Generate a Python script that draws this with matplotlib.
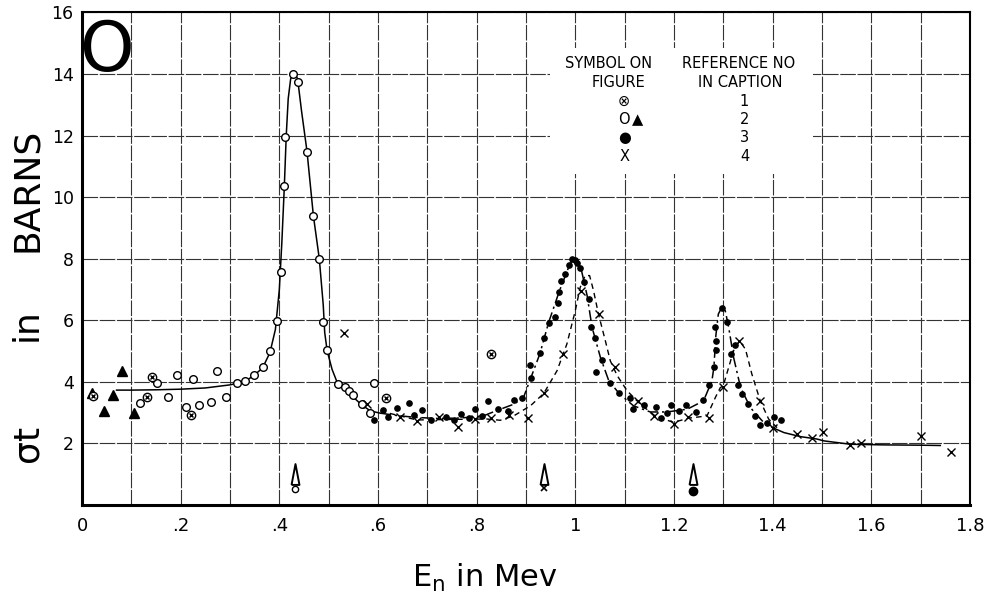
import numpy as np
import matplotlib
matplotlib.use("Agg")
import matplotlib.pyplot as plt
from matplotlib.patches import Rectangle

# ref 1 (circle with cross)
e_ref1 = [0.023, 0.131, 0.141, 0.2205, 0.617, 0.829]
s_ref1 = [3.53, 3.49, 4.14, 2.92, 3.47, 4.90]

# ref 2 open circles
e_ref2 = [0.118, 0.151, 0.174, 0.192, 0.211, 0.2245, 0.237, 0.261, 0.273, 0.292,
          0.314, 0.331, 0.348, 0.366, 0.381, 0.395, 0.403, 0.410, 0.412, 0.428,
          0.4375, 0.456, 0.469, 0.481, 0.489, 0.496, 0.518, 0.533, 0.542, 0.550,
          0.567, 0.584, 0.592]
s_ref2 = [3.30, 3.95, 3.49, 4.22, 3.19, 4.08, 3.23, 3.34, 4.36, 3.51,
          3.95, 4.01, 4.22, 4.47, 4.99, 5.97, 7.58, 10.35, 11.96, 14.0,
          13.75, 11.47, 9.39, 7.99, 5.93, 5.03, 3.93, 3.84, 3.71, 3.57,
          3.27, 3.00, 3.95]

# ref 2 triangles
e_ref2t = [0.0196, 0.044, 0.062, 0.081, 0.105]
s_ref2t = [3.62, 3.06, 3.58, 4.36, 2.99]

# ref 3 filled dots
e_ref3 = [0.591, 0.611, 0.621, 0.638, 0.662, 0.673, 0.690, 0.707, 0.738, 0.755,
          0.768, 0.784, 0.796, 0.811, 0.823, 0.843, 0.863, 0.875, 0.892, 0.909,
          0.910, 0.929, 0.937, 0.946, 0.959, 0.965, 0.968, 0.971, 0.980, 0.988,
          0.994, 0.999, 1.003, 1.009, 1.018, 1.028, 1.032, 1.039, 1.043, 1.055,
          1.071, 1.089, 1.110, 1.118, 1.139, 1.163, 1.173, 1.186, 1.195, 1.210,
          1.225, 1.245, 1.259, 1.271, 1.281, 1.284, 1.285, 1.286, 1.297, 1.308,
          1.316, 1.323, 1.330, 1.338, 1.350, 1.365, 1.374, 1.389, 1.402, 1.418]
s_ref3 = [2.75, 3.09, 2.84, 3.16, 3.32, 2.93, 3.08, 2.77, 2.84, 2.75,
          2.95, 2.82, 3.11, 2.88, 3.37, 3.10, 3.05, 3.41, 3.48, 4.54,
          4.11, 4.92, 5.43, 5.91, 6.11, 6.57, 6.93, 7.26, 7.50, 7.79,
          7.98, 7.96, 7.86, 7.71, 7.25, 6.70, 5.79, 5.43, 4.33, 4.70,
          3.96, 3.62, 3.48, 3.12, 3.24, 3.19, 2.83, 3.00, 3.26, 3.05,
          3.25, 3.01, 3.41, 3.90, 4.47, 5.77, 5.33, 5.03, 6.40, 5.93,
          4.90, 5.19, 3.89, 3.60, 3.27, 2.89, 2.60, 2.66, 2.84, 2.76]

# ref 4 crosses
e_ref4 = [0.532, 0.577, 0.645, 0.680, 0.724, 0.763, 0.797, 0.829, 0.866, 0.905,
          0.937, 0.976, 1.011, 1.049, 1.081, 1.128, 1.160, 1.200, 1.229, 1.271,
          1.300, 1.332, 1.375, 1.401, 1.450, 1.480, 1.503, 1.556, 1.579, 1.700,
          1.762]
s_ref4 = [5.58, 3.29, 2.84, 2.73, 2.84, 2.54, 2.80, 2.83, 2.92, 2.81,
          3.62, 4.90, 6.96, 6.20, 4.47, 3.36, 2.89, 2.62, 2.86, 2.83,
          3.84, 5.33, 3.36, 2.51, 2.30, 2.18, 2.38, 1.94, 2.01, 2.24,
          1.73]

# hand drawn fit curves
e_fit2 = [0.07, 0.10, 0.15, 0.20, 0.25, 0.30, 0.314, 0.331, 0.348, 0.366, 0.381,
          0.392, 0.400, 0.405, 0.410, 0.414, 0.418, 0.423, 0.430, 0.437, 0.445,
          0.456, 0.469, 0.481, 0.489, 0.492, 0.497, 0.507, 0.518, 0.533, 0.550,
          0.567, 0.585, 0.605]
s_fit2 = [3.73, 3.73, 3.74, 3.76, 3.80, 3.90, 3.95, 4.02, 4.20, 4.45, 4.95,
          5.7, 7.0, 8.5, 10.3, 12.0, 13.2, 13.85, 14.05, 13.85, 12.8,
          11.5, 9.4, 8.0, 6.5, 5.6, 5.0, 4.4, 3.95, 3.75, 3.5,
          3.25, 3.05, 2.98]

e_fit3 = [0.605, 0.64, 0.68, 0.72, 0.76, 0.81, 0.84, 0.875, 0.895, 0.909, 0.928,
          0.946, 0.968, 0.985, 0.995, 1.003, 1.012, 1.024, 1.034, 1.051, 1.068,
          1.09, 1.118, 1.152, 1.186, 1.227, 1.26, 1.277, 1.281, 1.285, 1.290,
          1.297, 1.304, 1.311, 1.321, 1.335, 1.355, 1.379, 1.40]
s_fit3 = [2.98, 2.90, 2.84, 2.81, 2.82, 2.87, 3.06, 3.27, 3.49, 4.09, 4.90,
          5.93, 6.96, 7.66, 7.99, 7.93, 7.66, 6.80, 5.77, 4.79, 4.03,
          3.60, 3.22, 3.02, 3.02, 3.11, 3.38, 4.03, 4.47, 5.5, 6.2,
          6.42, 6.31, 5.77, 4.79, 3.82, 3.16, 2.73, 2.51]

e_fit4 = [0.605, 0.645, 0.679, 0.72, 0.76, 0.821, 0.848, 0.875, 0.909, 0.936,
          0.963, 0.983, 1.0, 1.010, 1.020, 1.029, 1.037, 1.047, 1.061, 1.071,
          1.085, 1.105, 1.132, 1.162, 1.199, 1.230, 1.267, 1.284, 1.294, 1.300,
          1.311, 1.321, 1.333, 1.345, 1.358, 1.375, 1.392, 1.409]
s_fit4 = [3.05, 2.89, 2.76, 2.77, 2.78, 2.79, 2.75, 2.89, 3.22, 3.62,
          4.36, 5.23, 6.31, 7.07, 7.45, 7.45, 6.96, 6.20, 5.33, 4.68,
          4.20, 3.71, 3.27, 2.89, 2.68, 2.82, 2.89, 3.49, 3.81, 3.87,
          4.47, 5.01, 5.33, 5.06, 4.25, 3.38, 2.79, 2.51]

e_tail = [1.40, 1.423, 1.456, 1.49, 1.504, 1.558, 1.625, 1.70, 1.74]
s_tail = [2.51, 2.35, 2.22, 2.14, 2.08, 1.97, 1.95, 1.94, 1.93]

# resonance markers
res_e = [0.432, 0.936, 1.239]

xticks = [0, 0.2, 0.4, 0.6, 0.8, 1.0, 1.2, 1.4, 1.6, 1.8]
xtick_labels = ["0", ".2", ".4", ".6", ".8", "1", "1.2", "1.4", "1.6", "1.8"]
yticks = [2, 4, 6, 8, 10, 12, 14, 16]

fig = plt.figure(figsize=(9.92, 5.94), dpi=100)
ax = fig.add_axes([0.0827, 0.15, 0.895, 0.829])
ax.set_xlim(0, 1.8)
ax.set_ylim(0, 16)
ax.set_axisbelow(True)

ax.set_xticks(np.arange(0, 1.81, 0.1), minor=True)
ax.set_xticks(xticks)
ax.set_xticklabels(xtick_labels, fontsize=13)
ax.set_yticks(yticks)
ax.set_yticklabels([str(v) for v in yticks], fontsize=12.5)
ax.tick_params(which="both", length=0)
ax.tick_params(axis="x", pad=9)
ax.tick_params(axis="y", pad=6)
gkw = dict(color="0.2", lw=0.8, ls=(0, (14, 1.5)))
ax.grid(True, which="both", axis="x", **gkw)
ax.grid(True, which="major", axis="y", **gkw)
for side in ["left", "bottom"]:
    ax.spines[side].set_linewidth(2.2)
for side in ["right", "top"]:
    ax.spines[side].set_linewidth(1.5)

# white box behind the symbol table
ax.add_patch(Rectangle((0.949, 10.76), 0.532, 4.07, facecolor="white",
                       edgecolor="none", zorder=1))

# fit curves
ax.plot(e_fit2, s_fit2, color="black", lw=1.1, zorder=2)
ax.plot(e_fit3, s_fit3, color="black", lw=1.1, ls=(0, (7, 2.5, 1.5, 2.5)), zorder=2)
ax.plot(e_fit4, s_fit4, color="black", lw=1.0, ls=(0, (4, 3)), zorder=2)
ax.plot(e_tail, s_tail, color="black", lw=1.1, zorder=2)

# data points
ax.plot(e_ref2, s_ref2, "o", ms=5.5, mfc="white", mec="black", mew=1.0, zorder=3)
ax.plot(e_ref2t, s_ref2t, "^", ms=6.5, color="black", zorder=3)
ax.plot(e_ref3, s_ref3, "o", ms=3.8, color="black", zorder=3)
ax.plot(e_ref4, s_ref4, "x", ms=5.5, color="black", mew=1.0, zorder=3)
ax.plot(e_ref1, s_ref1, "o", ms=6, mfc="white", mec="black", mew=1.0, zorder=3)
ax.plot(e_ref1, s_ref1, "x", ms=3.5, color="black", mew=1.0, zorder=4)

# resonance arrows with the symbol of the source
delta = [(-0.38, -1), (0.38, -1), (0, 1), (-0.38, -1)]
ax.plot(res_e, [1.0] * 3, ls="none", marker=delta, ms=15, mfc="none",
        mec="black", mew=1.4, zorder=3)
ax.plot(res_e[0], 0.52, "o", ms=4.5, mfc="white", mec="black", mew=1.0)
ax.plot(res_e[1], 0.55, "x", ms=4.5, color="black", mew=1.2)
ax.plot(res_e[2], 0.45, "o", ms=6, color="black")

# big element symbol
ax.text(0.028, 0.881, "O", transform=ax.transAxes, fontsize=50,
        ha="center", va="baseline")

# symbol table
tkw = dict(fontsize=10.5, ha="center", va="center", zorder=5)
ax.text(1.067, 14.34, "SYMBOL ON", **tkw)
ax.text(1.087, 13.72, "FIGURE", **tkw)
ax.text(1.331, 14.34, "REFERENCE NO", **tkw)
ax.text(1.335, 13.72, "IN CAPTION", **tkw)
ax.text(1.099, 13.11, "⊗", **tkw)
ax.text(1.099, 12.52, "O", **tkw)
ax.text(1.126, 12.52, "▲", **tkw)
ax.text(1.099, 11.93, "●", **tkw)
ax.text(1.099, 11.32, "X", **tkw)
for i, yy in enumerate([13.11, 12.52, 11.93, 11.32]):
    ax.text(1.343, yy, str(i + 1), **tkw)

fig.text(485 / 992, 1 - 578 / 594, "E$_\\mathregular{n}$ in Mev", fontsize=22,
         ha="center", va="center")

# y label lettered in three pieces, spaced as on the original
ykw = dict(fontsize=26, rotation=90, ha="center", va="center")
fig.text(27 / 992, 1 - 190 / 594, "BARNS", **ykw)
fig.text(27 / 992, 1 - 325 / 594, "in", **ykw)
fig.text(27 / 992, 1 - 443 / 594, "σt", **ykw)

fig.savefig("out.png", dpi=100)
